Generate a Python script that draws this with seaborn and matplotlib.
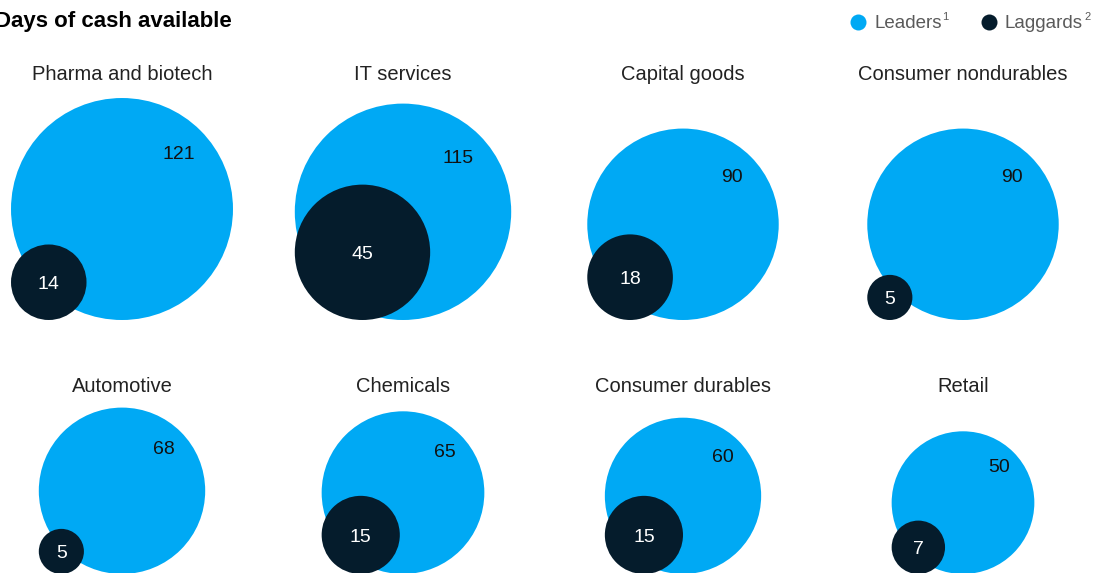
import numpy as np
import pandas as pd
import matplotlib
matplotlib.use("Agg")
import matplotlib.pyplot as plt
import seaborn as sns

# ---- data ----
categories = ["Pharma and biotech", "IT services", "Capital goods", "Consumer nondurables",
              "Automotive", "Chemicals", "Consumer durables", "Retail"]
leaders = [121, 115, 90, 90, 68, 65, 60, 50]
laggards = [14, 45, 18, 5, 5, 15, 15, 7]
title = "Days of cash available"
legend_labels = ["Leaders", "Laggards"]
legend_notes = ["1", "2"]

LEADER_C = "#00A9F4"
LAGGARD_C = "#051C2C"

W, H, DPI = 1103, 573, 100
sns.set_theme(style="white")
plt.rcParams["font.family"] = ["Liberation Sans", "DejaVu Sans"]

fig = plt.figure(figsize=(W / DPI, H / DPI), dpi=DPI)
ax = fig.add_axes([0, 0, 1, 1])
ax.set_xlim(0, W)
ax.set_ylim(H, 0)
ax.axis("off")

# layout (pixel space)
col_cx = [122, 403, 683, 963]
row_bottom = [320, 574]
row_title_y = [74, 386]
K = 10.09  # radius px per sqrt(day)

rows = []
for i, cat in enumerate(categories):
    r_i, c_i = divmod(i, 4)
    R = K * np.sqrt(leaders[i])
    r = K * np.sqrt(laggards[i])
    cx = col_cx[c_i]
    bot = row_bottom[r_i]
    rows.append(dict(cat=cat, group="Leaders", value=leaders[i], x=cx, y=bot - R, rad=R))
    rows.append(dict(cat=cat, group="Laggards", value=laggards[i], x=cx - R + r, y=bot - r, rad=r))
df = pd.DataFrame(rows)
df = pd.concat([df[df.group == "Leaders"], df[df.group == "Laggards"]], ignore_index=True)

# marker area (pt^2) proportional to value: diameter_pt = 2*K*sqrt(v)*72/DPI
S = (2 * K * 72 / DPI) ** 2
vmin, vmax = df.value.min(), df.value.max()
sns.scatterplot(data=df, x="x", y="y", hue="group", size="value",
                sizes=(S * vmin, S * vmax), size_norm=(vmin, vmax),
                palette={"Leaders": LEADER_C, "Laggards": LAGGARD_C},
                linewidth=0, legend=False, ax=ax, alpha=1)
ax.set_xlim(0, W)
ax.set_ylim(H, 0)
ax.axis("off")

# value labels
for _, row in df.iterrows():
    if row.group == "Leaders":
        d = 0.72 * row.rad / np.sqrt(2)
        ax.text(row.x + d, row.y - d + 1.5, f"{row.value}", ha="center", va="center",
                fontsize=14, color="#111111")
    else:
        ax.text(row.x, row.y + 2.5, f"{row.value}", ha="center", va="center",
                fontsize=14, color="white")

# category titles
for i, cat in enumerate(categories):
    r_i, c_i = divmod(i, 4)
    ax.text(col_cx[c_i], row_title_y[r_i], cat, ha="center", va="center",
            fontsize=14.5, color="#222222")

# chart title
ax.text(-5, 21, title, ha="left", va="center", fontsize=16, fontweight="bold",
        color="#000000")

# legend
dot_s = (16 * 72 / DPI) ** 2
renderer = fig.canvas.get_renderer()
for lx, lab, note, col in [(858, legend_labels[0], legend_notes[0], LEADER_C),
                           (989, legend_labels[1], legend_notes[1], LAGGARD_C)]:
    ax.scatter([lx], [22], s=dot_s, color=col, linewidth=0)
    t = ax.text(lx + 16, 24, lab, ha="left", va="center", fontsize=13.5, color="#5a5a5a")
    bb = t.get_window_extent(renderer=renderer)
    x_end = lx + 16 + bb.width
    ax.text(x_end + 1, 17, note, ha="left", va="center", fontsize=8, color="#5a5a5a")

fig.savefig("out.png", dpi=DPI)
